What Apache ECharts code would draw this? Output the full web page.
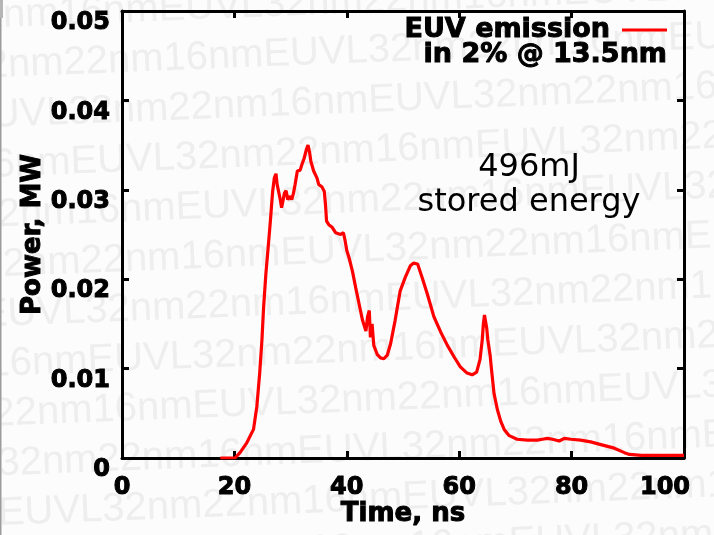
<!DOCTYPE html>
<html>
<head>
<meta charset="utf-8">
<script src="https://cdn.jsdelivr.net/npm/echarts@6/dist/echarts.min.js"></script>
<style>
  html, body { margin: 0; padding: 0; background: #fcfcfc; }
  #chart { width: 714px; height: 535px; }
</style>
</head>
<body>
<div id="chart"></div>
<script>
// EUV emission power trace (time in ns, power in MW)
const timeNs = [
  17.5, 20.1, 21.0, 22.2, 23.4, 24.0, 24.5, 24.9, 25.2, 25.6,
  26.0, 26.4, 26.8, 27.1, 27.4, 27.6, 28.1, 28.4, 28.9, 29.2,
  29.5, 29.9, 30.2, 30.5, 30.8, 31.2, 31.7, 32.0, 32.4, 32.8,
  33.1, 33.4, 33.6, 34.1, 34.7, 35.0, 35.6, 36.0, 36.2, 36.4,
  36.8, 37.4, 38.0, 38.9, 39.4, 39.7, 40.0, 40.4, 41.0, 41.6,
  42.2, 42.8, 43.4, 43.7, 44.0, 44.2, 44.5, 44.8, 45.4, 46.0,
  46.6, 47.2, 47.8, 48.6, 49.5, 50.4, 51.3, 51.9, 52.6, 53.4,
  54.3, 55.5, 56.7, 57.9, 59.1, 60.2, 61.4, 62.3, 63.1, 63.7,
  64.1, 64.3, 64.5, 64.9, 65.1, 65.5, 65.7, 66.2, 66.8, 67.4,
  68.0, 68.9, 70.3, 72.1, 73.9, 74.8, 75.7, 76.6, 77.8, 78.7,
  79.9, 81.6, 83.4, 85.2, 87.6, 89.4, 90.3, 92.4, 100.0
];
const powerMW = [
  0.0000, 0.0000, 0.0006, 0.0017, 0.0032, 0.0058, 0.0095, 0.0132, 0.0169, 0.0206,
  0.0235, 0.0265, 0.0298, 0.0313, 0.0318, 0.0306, 0.0291, 0.0280, 0.0296, 0.0299,
  0.0289, 0.0293, 0.0289, 0.0296, 0.0306, 0.0321, 0.0322, 0.0328, 0.0335, 0.0345,
  0.0350, 0.0341, 0.0332, 0.0321, 0.0313, 0.0306, 0.0303, 0.0298, 0.0284, 0.0265,
  0.0261, 0.0258, 0.0252, 0.0250, 0.0252, 0.0243, 0.0232, 0.0224, 0.0209, 0.0190,
  0.0172, 0.0154, 0.0142, 0.0158, 0.0165, 0.0135, 0.0150, 0.0126, 0.0116, 0.0112,
  0.0111, 0.0115, 0.0128, 0.0154, 0.0187, 0.0202, 0.0215, 0.0218, 0.0217, 0.0202,
  0.0184, 0.0158, 0.0141, 0.0126, 0.0113, 0.0102, 0.0095, 0.0093, 0.0096, 0.0110,
  0.0132, 0.0150, 0.0160, 0.0145, 0.0132, 0.0115, 0.0102, 0.0072, 0.0054, 0.0041,
  0.0032, 0.0025, 0.0021, 0.0020, 0.0020, 0.0021, 0.0022, 0.0021, 0.0019, 0.0022,
  0.0021, 0.0020, 0.0018, 0.0015, 0.0011, 0.0006, 0.0004, 0.0003, 0.0003
];

const xTicks = [0, 20, 40, 60, 80, 100];
const yTicks = [0, 0.01, 0.02, 0.03, 0.04, 0.05];
const seriesName = 'EUV emission';
const seriesNote = 'in 2% @ 13.5nm';
const annotationLines = ['496mJ', 'stored energy'];
const xTitle = 'Time, ns';
const yTitle = 'Power, MW';
const watermarkText = 'EUVL32nm22nm16nm';

const RED = '#ff0000';
// heavy black lettering: bold face plus a thin outline of the same colour
const HEAVY = {
  fontFamily: 'DejaVu Sans', fontWeight: 'bold', color: '#000',
  textBorderColor: '#000', textBorderWidth: 1
};

const axisLine = { show: true, onZero: false, lineStyle: { color: '#000', width: 3 } };
const axisTick = { show: true, inside: true, length: 7, lineStyle: { color: '#000', width: 3 } };

// faint repeating background lettering, slightly tilted
const wmPeriod = 403;
const watermark = [];
for (let i = -1; i <= 11; i++) {
  const euvl = (((157 + 105 * i) % wmPeriod) + wmPeriod) % wmPeriod;
  watermark.push({
    type: 'text',
    x: 0,
    y: 16 + 49.8 * i,
    rotation: 0.04,
    z: -10,
    silent: true,
    style: {
      text: watermarkText.repeat(3),
      x: euvl - wmPeriod,
      y: 0,
      font: '40px "Liberation Sans", Arial, sans-serif',
      fill: '#eeeeee',
      verticalAlign: 'middle'
    }
  });
}

const chart = echarts.init(document.getElementById('chart'), null, { renderer: 'canvas' });

chart.setOption({
  backgroundColor: '#fcfcfc',
  animation: false,
  grid: { left: 122, right: 30, top: 11, bottom: 77, outerBoundsMode: 'none' },
  legend: {
    show: true,
    right: 47,
    top: 16,
    align: 'right',
    padding: 0,
    itemWidth: 45,
    itemHeight: 3,
    selectedMode: false,
    formatter: name => '{t|' + name + '}',
    textStyle: Object.assign({
      fontSize: 27,
      rich: { t: Object.assign({ fontSize: 27, padding: [0, 7, 0, 0] }, HEAVY) }
    }, HEAVY),
    data: [{ name: seriesName, icon: 'rect', itemStyle: { color: RED } }]
  },
  xAxis: [
    {
      type: 'value', position: 'bottom',
      min: xTicks[0], max: xTicks[xTicks.length - 1], interval: xTicks[1] - xTicks[0],
      axisLine, axisTick, splitLine: { show: false },
      axisLabel: Object.assign({
        fontSize: 24, margin: 18, showMinLabel: true, showMaxLabel: true,
        formatter: v => (v === xTicks[xTicks.length - 1] ? '{last|' + v + '}' : String(v)),
        rich: { last: Object.assign({ fontSize: 24, padding: [0, 38, 0, 0] }, HEAVY) }
      }, HEAVY),
      name: xTitle, nameLocation: 'middle', nameGap: 43, nameMoveOverlap: false,
      nameTextStyle: Object.assign({ fontSize: 26 }, HEAVY)
    },
    {
      type: 'value', position: 'top',
      min: xTicks[0], max: xTicks[xTicks.length - 1], interval: xTicks[1] - xTicks[0],
      axisLine, axisTick, axisLabel: { show: false }, splitLine: { show: false }
    }
  ],
  yAxis: [
    {
      type: 'value', position: 'left',
      min: yTicks[0], max: yTicks[yTicks.length - 1], interval: yTicks[1] - yTicks[0],
      axisLine, axisTick, splitLine: { show: false },
      axisLabel: Object.assign({
        fontSize: 24, margin: 12, verticalAlign: 'top', showMinLabel: true, showMaxLabel: true,
        formatter: v => (v === 0 ? '0' : v.toFixed(2))
      }, HEAVY),
      name: yTitle, nameLocation: 'middle', nameGap: 76, nameMoveOverlap: false,
      nameTextStyle: Object.assign({ fontSize: 26 }, HEAVY)
    },
    {
      type: 'value', position: 'right',
      min: yTicks[0], max: yTicks[yTicks.length - 1], interval: yTicks[1] - yTicks[0],
      axisLine, axisTick, axisLabel: { show: false }, splitLine: { show: false }
    }
  ],
  series: [
    {
      name: seriesName,
      type: 'line',
      xAxisIndex: 0,
      yAxisIndex: 0,
      data: timeNs.map((t, i) => [t, powerMW[i]]),
      symbol: 'none',
      showSymbol: false,
      smooth: false,
      z: 5,
      lineStyle: { color: RED, width: 3.2 },
      itemStyle: { color: RED }
    }
  ],
  graphic: watermark.concat([
    // left image edge
    { type: 'rect', z: 50, silent: true, shape: { x: 0, y: 0, width: 1.5, height: 535 }, style: { fill: '#9c9c9c' } },
    { type: 'rect', z: 50, silent: true, shape: { x: 0, y: 0, width: 3, height: 18 }, style: { fill: '#b5b5b5' } },
    // second line of the legend entry
    {
      type: 'text', z: 50, silent: true, x: 667, y: 55,
      style: {
        text: seriesNote, align: 'right', verticalAlign: 'middle',
        font: 'bold 27px "DejaVu Sans"', fill: '#000', stroke: '#000', lineWidth: 1
      }
    },
    // stored-energy note
    {
      type: 'text', z: 50, silent: true, x: 529, y: 185,
      style: {
        text: annotationLines.join('\n'), align: 'center', verticalAlign: 'middle',
        lineHeight: 35, font: '32px "DejaVu Sans"', fill: '#000'
      }
    }
  ])
});
</script>
</body>
</html>
